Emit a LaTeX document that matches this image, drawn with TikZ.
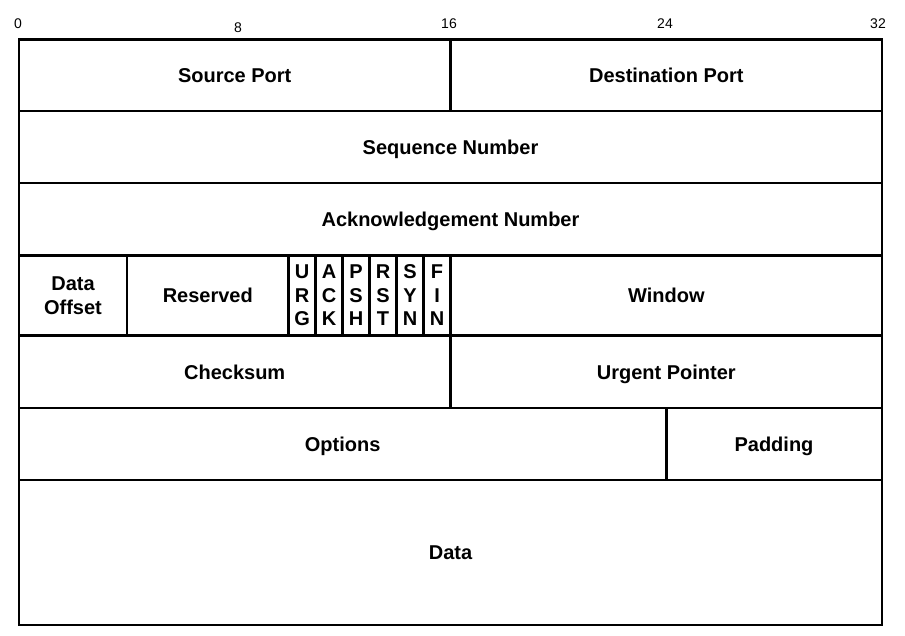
\documentclass[tikz,border=0pt]{standalone}
\usepackage{fontspec}
\setmainfont{Liberation Sans}

\begin{document}
\begin{tikzpicture}[x=1pt,y=-1pt,line width=2.5pt,
  field/.style={font=\fontsize{20}{24}\selectfont\bfseries,inner sep=0pt,text height=14.3pt,text depth=0pt},
  stack/.style={font=\fontsize{20}{23.5}\selectfont\bfseries,inner sep=0pt,align=center},
  bitno/.style={font=\fontsize{14}{16}\selectfont,inner sep=0pt,anchor=base}]
\useasboundingbox (0,0) rectangle (905,636);
% bit numbers
\node [bitno] (b0) at (18,29) {0};
\node [bitno] (b8) at (238,33) {8};
\node [bitno] (b16) at (449,29) {16};
\node [bitno] (b24) at (665,29) {24};
\node [bitno] (b32) at (878,29) {32};
% rows
\draw (19,39.5) rectangle (882,625);
\draw (19,111) -- (882,111);
\draw (19,183) -- (882,183);
\draw (19,255.5) -- (882,255.5);
\draw (19,335.5) -- (882,335.5);
\draw (19,408) -- (882,408);
\draw (19,480) -- (882,480);
% columns
\draw (450.5,39.5) -- (450.5,111);
\draw (126.9,255.5) -- (126.9,335.5);
\draw (288.7,255.5) -- (288.7,335.5);
\draw (450.5,255.5) -- (450.5,335.5);
\draw (450.5,335.5) -- (450.5,408);
\draw (666.3,408) -- (666.3,480);
\foreach \i in {1,...,5}
  \draw ({288.7+\i*26.97},255.5) -- ({288.7+\i*26.97},335.5);
% fields
\node [field] (srcport) at (234.7,75) {Source Port};
\node [field] (dstport) at (666.3,75) {Destination Port};
\node [field] (seqnum) at (450.5,147) {Sequence Number};
\node [field] (acknum) at (450.5,219) {Acknowledgement Number};
\node [stack] (offset) at (73,295.5) {Data\\Offset};
\node [field] (reserved) at (207.8,295.5) {Reserved};
\foreach \f [count=\i] in {U\\R\\G,A\\C\\K,P\\S\\H,R\\S\\T,S\\Y\\N,F\\I\\N}
  \node [stack] (flag\i) at ({288.7+(\i-0.5)*26.97},295.5) {\f};
\node [field] (window) at (666.3,295.5) {Window};
\node [field] (checksum) at (234.7,372) {Checksum};
\node [field] (urgent) at (666.3,372) {Urgent Pointer};
\node [field] (options) at (342.6,444) {Options};
\node [field] (padding) at (774,444) {Padding};
\node [field] (data) at (450.5,552.5) {Data};
\end{tikzpicture}
\end{document}
